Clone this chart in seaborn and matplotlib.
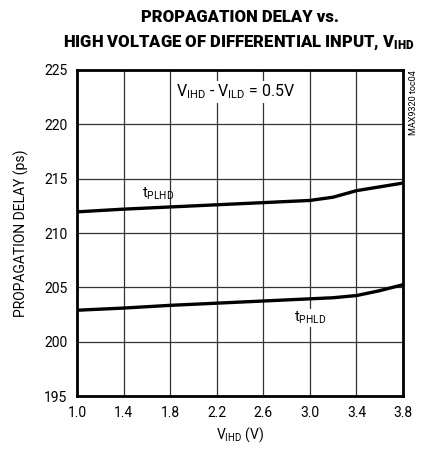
import matplotlib
matplotlib.use('Agg')
import pandas as pd
import matplotlib.pyplot as plt
import seaborn as sns

# Values
vihd = [1.0, 1.4, 1.8, 2.2, 2.6, 3.0, 3.2, 3.4, 3.6, 3.8]
t_plhd = [211.95, 212.2, 212.4, 212.6, 212.8, 213.0, 213.3, 213.9, 214.25, 214.6]
t_phld = [202.9, 203.1, 203.35, 203.55, 203.75, 203.95, 204.05, 204.25, 204.7, 205.25]
xticks = [1.0, 1.4, 1.8, 2.2, 2.6, 3.0, 3.4, 3.8]
yticks = [195, 200, 205, 210, 215, 220, 225]

df = pd.DataFrame({
    'vihd': vihd * 2,
    'delay': t_plhd + t_phld,
    'series': ['tPLHD'] * len(vihd) + ['tPHLD'] * len(vihd),
})

sns.set_theme(style='white')
plt.rcParams['font.family'] = ['Roboto', 'DejaVu Sans']
plt.rcParams['text.color'] = 'black'
plt.rcParams['axes.labelcolor'] = 'black'
plt.rcParams['mathtext.fontset'] = 'custom'
plt.rcParams['mathtext.rm'] = 'Roboto'
plt.rcParams['mathtext.bf'] = 'Roboto:black'

fig = plt.figure(figsize=(4.22, 4.59), dpi=100)
ax = fig.add_axes([0.1825, 0.137, 0.7725, 0.7105])

sns.lineplot(data=df, x='vihd', y='delay', units='series', estimator=None,
             color='black', lw=2.4, ax=ax, legend=False)

ax.set_xlim(1.0, 3.8)
ax.set_ylim(195, 225)
ax.set_xticks(xticks)
ax.set_xticklabels([f'{v:.1f}' for v in xticks])
ax.set_yticks(yticks)
ax.grid(True, color='#333333', lw=0.9)
for sp in ax.spines.values():
    sp.set_color('black')
    sp.set_linewidth(2)
ax.tick_params(labelsize=10, length=0, pad=7, colors='black')

ax.set_xlabel(r'$\mathregular{V_{IHD}}$ (V)', fontsize=10, labelpad=4)
ax.set_ylabel('PROPAGATION DELAY (ps)', fontsize=10, labelpad=11)

ax.text(2.36, 223.0, r'$\mathregular{V_{IHD}}$ - $\mathregular{V_{ILD}}$ = 0.5V',
        ha='center', va='center', fontsize=11.5,
        bbox=dict(fc='white', ec='none', pad=1))
ax.text(1.70, 213.6, r'$\mathregular{t_{PLHD}}$', ha='center', va='center', fontsize=10.5)
ax.text(3.0, 202.2, r'$\mathregular{t_{PHLD}}$', ha='center', va='center', fontsize=10.5,
        bbox=dict(fc='white', ec='none', pad=0.5))

fig.text(0.979, 0.847, 'MAX9320 toc04', rotation=90, ha='center', va='top', fontsize=6.5)

fig.text(0.568, 0.962, 'PROPAGATION DELAY vs.', ha='center', va='center',
         fontsize=12, fontweight='black')
fig.text(0.566, 0.908, r'HIGH VOLTAGE OF DIFFERENTIAL INPUT, $\mathbf{V_{IHD}}$',
         ha='center', va='center', fontsize=12, fontweight='black')

fig.savefig('out.png', dpi=100)
